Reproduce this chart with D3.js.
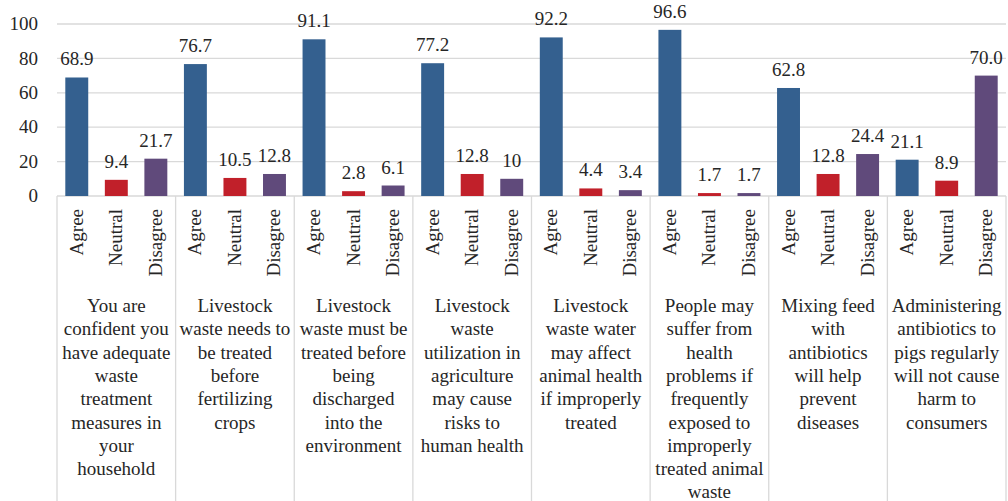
<!DOCTYPE html>
<html><head><meta charset="utf-8">
<script src="https://cdn.jsdelivr.net/npm/d3@7"></script>
<style>body{margin:0;background:#fff}svg{display:block}</style>
</head><body><svg id="c" width="1008" height="501"></svg>
<script>
const groups = [
  ["You are","confident you","have adequate","waste","treatment","measures in","your","household"],
  ["Livestock","waste needs to","be treated","before","fertilizing","crops"],
  ["Livestock","waste must be","treated before","being","discharged","into the","environment"],
  ["Livestock","waste","utilization in","agriculture","may cause","risks to","human health"],
  ["Livestock","waste water","may affect","animal health","if improperly","treated"],
  ["People may","suffer from","health","problems if","frequently","exposed to","improperly","treated animal","waste"],
  ["Mixing feed","with","antibiotics","will help","prevent","diseases"],
  ["Administering","antibiotics to","pigs regularly","will not cause","harm to","consumers"]
];
const responses = ["Agree","Neutral","Disagree"];
const agree    = [68.9, 76.7, 91.1, 77.2, 92.2, 96.6, 62.8, 21.1];
const neutral  = [9.4, 10.5, 2.8, 12.8, 4.4, 1.7, 12.8, 8.9];
const disagree = [21.7, 12.8, 6.1, 10, 3.4, 1.7, 24.4, 70.0];
const labelsAgree    = ["68.9","76.7","91.1","77.2","92.2","96.6","62.8","21.1"];
const labelsNeutral  = ["9.4","10.5","2.8","12.8","4.4","1.7","12.8","8.9"];
const labelsDisagree = ["21.7","12.8","6.1","10","3.4","1.7","24.4","70.0"];
const yTicks = [0,20,40,60,80,100];
const colors = ["#34608f","#c1202a","#604a7b"];

const svg = d3.select("#c");
const ink = "#262626";
const fam = "'Liberation Serif', 'Times New Roman', Tinos, 'DejaVu Serif', 'Noto Serif', serif";
svg.style("font-family", fam);
const left = 57, right = 1006, y0 = 196, y100 = 24;
const y = d3.scaleLinear().domain([0,100]).range([y0,y100]);
const gx = d3.scaleBand().domain(d3.range(groups.length)).range([left,right]);
const bx = d3.scaleBand().domain(responses).range([0,gx.bandwidth()]).paddingInner(0.42).paddingOuter(0.21);

svg.append("g").selectAll("line").data(yTicks).join("line")
  .attr("x1",left).attr("x2",right).attr("y1",d=>y(d)).attr("y2",d=>y(d))
  .attr("stroke","#d9d9d9").attr("stroke-width",1.3);
svg.append("g").selectAll("text").data(yTicks).join("text")
  .attr("x",38).attr("y",d=>y(d)).attr("dy","0.33em").attr("text-anchor","end")
  .attr("fill",ink).style("font-size","19px").style("font-family",fam).text(d=>d);

svg.append("g").selectAll("line").data(d3.range(groups.length+1)).join("line")
  .attr("x1",i=>i<groups.length?gx(i):right).attr("x2",i=>i<groups.length?gx(i):right)
  .attr("y1",y0).attr("y2",501).attr("stroke","#d9d9d9").attr("stroke-width",1.3);

const series = [agree, neutral, disagree];
const lbls = [labelsAgree, labelsNeutral, labelsDisagree];
const data = [];
groups.forEach((g,i)=>responses.forEach((r,j)=>data.push({i,r,j,v:series[j][i],l:lbls[j][i]})));

const gg = svg.append("g");
gg.selectAll("rect").data(data).join("rect")
  .attr("x",d=>gx(d.i)+bx(d.r)).attr("width",bx.bandwidth())
  .attr("y",d=>y(d.v)).attr("height",d=>y0-y(d.v)).attr("fill",d=>colors[d.j]);
gg.selectAll("text.v").data(data).join("text").attr("class","v")
  .attr("x",d=>gx(d.i)+bx(d.r)+bx.bandwidth()/2).attr("y",d=>y(d.v)-12)
  .attr("text-anchor","middle").attr("fill",ink).style("font-size","19px").style("font-family",fam).text(d=>d.l);
gg.selectAll("text.r").data(data).join("text").attr("class","r")
  .attr("transform",d=>`translate(${gx(d.i)+bx(d.r)+bx.bandwidth()/2+6},209) rotate(-90)`)
  .attr("text-anchor","end").attr("fill",ink).style("font-size","19px").style("font-family",fam).text(d=>d.r);
const gl = svg.append("g").selectAll("text").data(groups).join("text")
  .attr("text-anchor","middle").attr("fill",ink).style("font-size","19px").style("font-family",fam);
gl.each(function(lines,i){
  d3.select(this).selectAll("tspan").data(lines).join("tspan")
    .attr("x",gx(i)+gx.bandwidth()/2).attr("y",(d,k)=>312+k*23.3).text(d=>d);
});
</script></body></html>
